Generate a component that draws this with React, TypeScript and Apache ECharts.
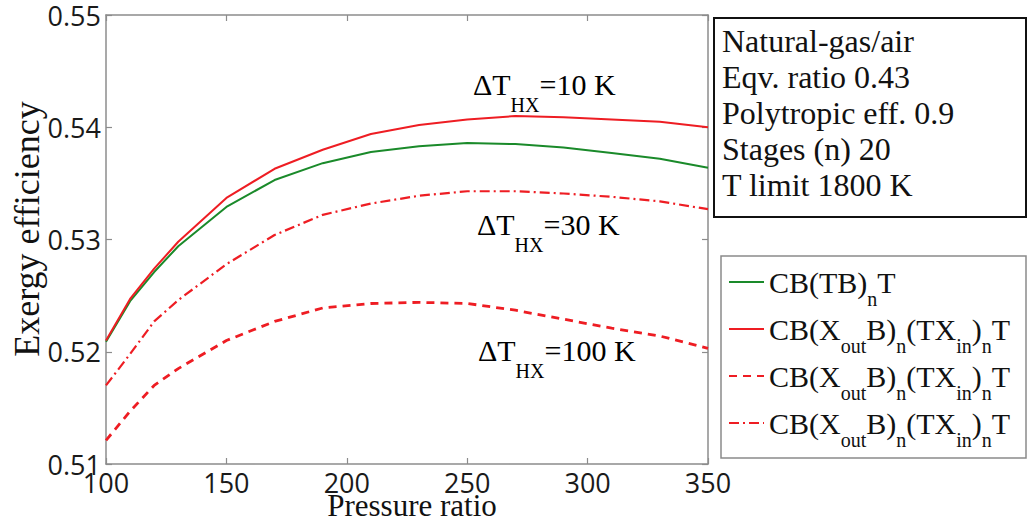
import { useEffect, useRef } from "react";
import * as echarts from "echarts";

// Pressure ratio samples (x) and exergy efficiency for each configuration
const pressureRatio = [100, 110, 120, 130, 150, 170, 190, 210, 230, 250, 270, 290, 310, 330, 350];
const cbTbT = [0.5209, 0.5245, 0.5271, 0.5294, 0.5329, 0.5353, 0.5368, 0.5378, 0.5383, 0.5386, 0.5385, 0.5382, 0.5377, 0.5372, 0.5364];
const hx10 = [0.521, 0.5247, 0.5274, 0.5298, 0.5337, 0.5363, 0.538, 0.5394, 0.5402, 0.5407, 0.541, 0.5409, 0.5407, 0.5405, 0.54];
const hx100 = [0.5121, 0.5147, 0.517, 0.5185, 0.521, 0.5227, 0.5239, 0.5243, 0.5244, 0.5243, 0.5237, 0.5229, 0.5221, 0.5214, 0.5203];
const hx30 = [0.517, 0.5198, 0.5227, 0.5246, 0.5278, 0.5304, 0.5322, 0.5332, 0.5339, 0.5343, 0.5343, 0.5341, 0.5338, 0.5334, 0.5327];

const xMin = 100, xMax = 350, xStep = 50;
const yMin = 0.51, yMax = 0.55, yStep = 0.01;

const caseLines = [
  "Natural-gas/air",
  "Eqv. ratio 0.43",
  "Polytropic eff. 0.9",
  "Stages (n) 20",
  "T limit 1800 K",
];

const RED = "#ee1d23";
const GREEN = "#1a8a2a";
const SERIF = '"Liberation Serif", "Times New Roman", serif';
const SANS = '"Open Sans", sans-serif';
const AXIS_GRAY = "#8c8c8c";

const pairs = (ys: number[]) => pressureRatio.map((x, i) => [x, ys[i]]);

// legend text with subscripts (rich text tokens)
const heatExchangerCase = "{m|CB(X}{s|out}{m|B)}{s|n}{m|(TX}{s|in}{m|)}{s|n}{m|T}";
const legendRich: Record<string, string> = {
  "CB(TB)nT": "{m|CB(TB)}{s|n}{m|T}",
  "ΔT=10 K": heatExchangerCase,
  "ΔT=100 K": heatExchangerCase,
  "ΔT=30 K": heatExchangerCase,
};

const legendRichStyle = {
  m: { fontFamily: SERIF, fontSize: 30, color: "#111", lineHeight: 54, verticalAlign: "middle" },
  s: { fontFamily: SERIF, fontSize: 20, color: "#111", lineHeight: 20, verticalAlign: "bottom" },
};

const labelRichStyle = {
  m: { fontFamily: SERIF, fontSize: 30, color: "#111", lineHeight: 62, verticalAlign: "middle" },
  s: { fontFamily: SERIF, fontSize: 20, color: "#111", lineHeight: 20, verticalAlign: "bottom" },
};

function hxLabel(text: string, x: number, y: number) {
  return {
    type: "text",
    x,
    y,
    z: 10,
    style: {
      text: `{m|ΔT}{s|HX}{m|=${text}}`,
      rich: labelRichStyle,
      align: "left",
      verticalAlign: "top",
    },
  };
}

export default function App() {
  const ref = useRef<HTMLDivElement>(null);

  useEffect(() => {
    if (!ref.current) return;
    const chart = echarts.init(ref.current, undefined, { renderer: "svg" });

    const axisLineStyle = { color: AXIS_GRAY, width: 1.5 };
    const tick = { show: true, inside: true, length: 6, lineStyle: { color: AXIS_GRAY, width: 1.2 } };

    chart.setOption({
      animation: false,
      backgroundColor: "#ffffff",
      grid: { left: 106, right: 321, top: 15, bottom: 59, containLabel: false },
      xAxis: [
        {
          type: "value",
          position: "bottom",
          min: xMin,
          max: xMax,
          interval: xStep,
          axisLine: { show: true, lineStyle: axisLineStyle },
          axisTick: tick,
          splitLine: { show: false },
          axisLabel: { margin: 5, fontFamily: SANS, fontSize: 27, color: "#1a1a1a" },
        },
        {
          type: "value",
          position: "top",
          min: xMin,
          max: xMax,
          interval: xStep,
          axisLine: { show: true, lineStyle: axisLineStyle },
          axisTick: tick,
          splitLine: { show: false },
          axisLabel: { show: false },
        },
      ],
      yAxis: [
        {
          type: "value",
          position: "left",
          min: yMin,
          max: yMax,
          interval: yStep,
          axisLine: { show: true, lineStyle: axisLineStyle },
          axisTick: tick,
          splitLine: { show: false },
          axisLabel: {
            margin: 5,
            fontFamily: SANS,
            fontSize: 27,
            color: "#1a1a1a",
            formatter: (v: number) => v.toFixed(2),
          },
        },
        {
          type: "value",
          position: "right",
          min: yMin,
          max: yMax,
          interval: yStep,
          axisLine: { show: true, lineStyle: axisLineStyle },
          axisTick: tick,
          splitLine: { show: false },
          axisLabel: { show: false },
        },
      ],
      legend: {
        orient: "vertical",
        left: 728,
        top: 267,
        padding: 0,
        itemGap: 5,
        itemWidth: 35,
        itemHeight: 14,
        // only the line sample, no symbol dot
        itemStyle: { opacity: 0 },
        textStyle: { rich: legendRichStyle },
        formatter: (name: string) => legendRich[name] ?? name,
        data: ["CB(TB)nT", "ΔT=10 K", "ΔT=100 K", "ΔT=30 K"],
      },
      series: [
        {
          name: "CB(TB)nT",
          type: "line",
          data: pairs(cbTbT),
          symbol: "none",
          lineStyle: { color: GREEN, width: 2 },
          itemStyle: { color: GREEN },
        },
        {
          name: "ΔT=10 K",
          type: "line",
          data: pairs(hx10),
          symbol: "none",
          lineStyle: { color: RED, width: 2 },
          itemStyle: { color: RED },
        },
        {
          name: "ΔT=100 K",
          type: "line",
          data: pairs(hx100),
          symbol: "none",
          lineStyle: { color: RED, width: 2.8, type: [8, 6] },
          itemStyle: { color: RED },
        },
        {
          name: "ΔT=30 K",
          type: "line",
          data: pairs(hx30),
          symbol: "none",
          lineStyle: { color: RED, width: 2.2, type: [10, 4, 2, 4] },
          itemStyle: { color: RED },
        },
      ],
      graphic: [
        // case description box
        {
          type: "rect",
          shape: { x: 714, y: 18, width: 312, height: 199 },
          style: { fill: "#fff", stroke: "#111", lineWidth: 2 },
        },
        {
          type: "text",
          x: 722,
          y: 23,
          style: {
            text: caseLines.join("\n"),
            font: `32px ${SERIF}`,
            lineHeight: 36,
            fill: "#111",
            align: "left",
            verticalAlign: "top",
          },
        },
        // legend frame
        {
          type: "rect",
          z: -1,
          shape: { x: 721, y: 256, width: 305, height: 202 },
          style: { fill: "#fff", stroke: "#8a8a8a", lineWidth: 1.5 },
        },
        hxLabel("10 K", 473, 53),
        hxLabel("30 K", 477, 193),
        hxLabel("100 K", 478, 319),
        // axis titles
        {
          type: "text",
          x: 412,
          y: 505,
          style: {
            text: "Pressure ratio",
            font: `31px ${SERIF}`,
            fill: "#111",
            align: "center",
            verticalAlign: "middle",
          },
        },
        {
          type: "text",
          x: 27,
          y: 229,
          rotation: Math.PI / 2,
          style: {
            text: "Exergy efficiency",
            font: `36px ${SERIF}`,
            fill: "#111",
            align: "center",
            verticalAlign: "middle",
          },
        },
      ],
    });

    return () => chart.dispose();
  }, []);

  return (
    <div
      ref={ref}
      style={{ position: "absolute", left: 0, top: 0, width: 1029, height: 523, background: "#fff" }}
    />
  );
}
